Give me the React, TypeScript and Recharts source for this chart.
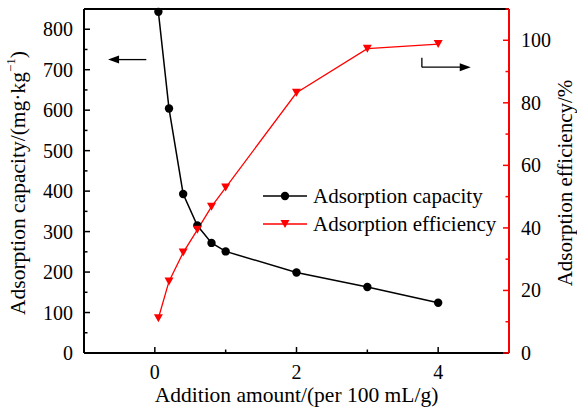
import { ComposedChart, Line, XAxis, YAxis, Legend, ReferenceLine } from "recharts";

const amounts = [0.05, 0.2, 0.4, 0.6, 0.8, 1, 2, 3, 4];
const capacity = [843, 604, 393, 315, 272, 251, 199, 163, 124];
const efficiency = [11.1, 22.9, 32.1, 39.4, 46.8, 52.9, 83.2, 97.3, 98.8];

const xTicks = [0, 1, 2, 3, 4];
const leftTicks = [0, 50, 100, 150, 200, 250, 300, 350, 400, 450, 500, 550, 600, 650, 700, 750, 800];
const rightTicks = [0, 10, 20, 30, 40, 50, 60, 70, 80, 90, 100, 110];

const seriesNames = ["Adsorption capacity", "Adsorption efficiency"];

const FONT = '"Liberation Serif", "Times New Roman", serif';
const RED = "#ff0000";
const TM = 4; // tickMargin, used to get back to the axis line

const data = amounts.map((x, i) => ({ x, cap: capacity[i], eff: efficiency[i] }));

const LeftTick = (props: any) => {
  const { x, y, payload } = props;
  const ax = x + TM;
  const major = payload.value % 100 === 0;
  return (
    <g>
      <line x1={ax} x2={ax + (major ? 6 : 3.5)} y1={y} y2={y} stroke="#000" strokeWidth={1.5} />
      {major && (
        <text x={ax - 11} y={y} dy="0.35em" textAnchor="end" fontSize={20} fontFamily={FONT} fill="#000">
          {payload.value}
        </text>
      )}
    </g>
  );
};

const RightTick = (props: any) => {
  const { x, y, payload } = props;
  const ax = x - TM;
  const major = payload.value % 20 === 0;
  return (
    <g>
      <line x1={ax} x2={ax - (major ? 6 : 3.5)} y1={y} y2={y} stroke={RED} strokeWidth={1.5} />
      {major && (
        <text x={ax + 12} y={y} dy="0.35em" textAnchor="start" fontSize={20} fontFamily={FONT} fill="#000">
          {payload.value}
        </text>
      )}
    </g>
  );
};

const BottomTick = (props: any) => {
  const { x, y, payload } = props;
  const ay = y - TM;
  const major = payload.value % 2 === 0;
  return (
    <g>
      <line x1={x} x2={x} y1={ay} y2={ay - (major ? 6 : 3.5)} stroke="#000" strokeWidth={1.5} />
      {major && (
        <text x={x} y={ay + 26} textAnchor="middle" fontSize={20} fontFamily={FONT} fill="#000">
          {payload.value}
        </text>
      )}
    </g>
  );
};

const CircleDot = (props: any) => {
  const { cx, cy, index } = props;
  return <circle key={`c-${index}`} cx={cx} cy={cy} r={4.2} fill="#000" />;
};

const TriDot = (props: any) => {
  const { cx, cy, index } = props;
  return (
    <polygon
      key={`t-${index}`}
      points={`${cx - 4.5},${cy - 4} ${cx + 4.5},${cy - 4} ${cx},${cy + 4}`}
      fill={RED}
    />
  );
};

const arrowShape = (dir: "left" | "right") => (props: any) => {
  const { x1, y1, x2, y2 } = props;
  const tipX = dir === "left" ? Math.min(x1, x2) : Math.max(x1, x2);
  const tailX = dir === "left" ? Math.max(x1, x2) : Math.min(x1, x2);
  const s = dir === "left" ? 1 : -1;
  return (
    <g>
      <line x1={tailX} y1={y1} x2={tipX + s * 8} y2={y2} stroke="#000" strokeWidth={1.3} />
      <polygon points={`${tipX},${y1} ${tipX + s * 11},${y1 - 4} ${tipX + s * 11},${y1 + 4}`} fill="#000" />
    </g>
  );
};

const plainShape = (props: any) => {
  const { x1, y1, x2, y2 } = props;
  return <line x1={x1} y1={y1} x2={x2} y2={y2} stroke="#000" strokeWidth={1.3} />;
};

const renderLegend = () => (
  <div style={{ fontFamily: FONT, fontSize: 21, color: "#000" }}>
    {seriesNames.map((name, i) => (
      <div key={name} style={{ display: "flex", alignItems: "center", height: 28, whiteSpace: "nowrap" }}>
        <svg width={44} height={14} style={{ marginRight: 6 }}>
          <line x1={0} x2={44} y1={7} y2={7} stroke={i === 0 ? "#000" : RED} strokeWidth={1.5} />
          {i === 0 ? (
            <circle cx={22} cy={7} r={4.2} fill="#000" />
          ) : (
            <polygon points="17.5,3 26.5,3 22,11" fill={RED} />
          )}
        </svg>
        <span>{name}</span>
      </div>
    ))}
  </div>
);

export default function App() {
  return (
    <div style={{ position: "absolute", left: 0, top: 0, background: "#fff" }}>
      <ComposedChart width={577} height={412} data={data} margin={{ top: 9, right: 0, bottom: 0, left: 0 }}>
        <XAxis
          type="number"
          dataKey="x"
          domain={[-1, 5]}
          ticks={xTicks}
          height={59}
          tickSize={0}
          tickMargin={TM}
          tick={BottomTick}
          axisLine={{ stroke: "#000", strokeWidth: 2 }}
          label={(p: any) => {
            const vb = p.viewBox;
            return (
              <text x={vb.x + vb.width / 2} y={402} textAnchor="middle" fontSize={21.5} fontFamily={FONT} fill="#000">
                Addition amount/(per 100 mL/g)
              </text>
            );
          }}
        />
        <YAxis
          yAxisId="left"
          domain={[0, 850]}
          ticks={leftTicks}
          width={84}
          tickSize={0}
          tickMargin={TM}
          tick={LeftTick}
          interval={0}
          axisLine={{ stroke: "#000", strokeWidth: 2 }}
          label={() => (
            <text
              x={18}
              y={183}
              transform="rotate(-90, 18, 183)"
              textAnchor="middle"
              dominantBaseline="central"
              fontSize={21.5}
              fontFamily={FONT}
              fill="#000"
            >
              Adsorption capacity/(mg·kg
              <tspan dy={-8} fontSize={13}>−1</tspan>
              <tspan dy={8}>)</tspan>
            </text>
          )}
        />
        <YAxis
          yAxisId="right"
          orientation="right"
          domain={[0, 110]}
          ticks={rightTicks}
          width={68}
          tickSize={0}
          tickMargin={TM}
          tick={RightTick}
          interval={0}
          axisLine={{ stroke: RED, strokeWidth: 2 }}
          label={() => (
            <text
              x={565}
              y={183}
              transform="rotate(-90, 565, 183)"
              textAnchor="middle"
              dominantBaseline="central"
              fontSize={21}
              fontFamily={FONT}
              fill="#000"
            >
              Adsorption efficiency/%
            </text>
          )}
        />
        <ReferenceLine yAxisId="left" y={850} stroke="#000" strokeWidth={2} />
        <ReferenceLine
          yAxisId="left"
          segment={[{ x: -0.12, y: 725 }, { x: -0.66, y: 725 }]}
          shape={arrowShape("left")}
        />
        <ReferenceLine
          yAxisId="right"
          segment={[{ x: 3.77, y: 94.4 }, { x: 3.77, y: 91.4 }]}
          shape={plainShape}
        />
        <ReferenceLine
          yAxisId="right"
          segment={[{ x: 3.77, y: 91.4 }, { x: 4.46, y: 91.4 }]}
          shape={arrowShape("right")}
        />
        <Line
          yAxisId="left"
          type="linear"
          dataKey="cap"
          name={seriesNames[0]}
          stroke="#000"
          strokeWidth={1.5}
          dot={CircleDot}
          activeDot={false}
          isAnimationActive={false}
        />
        <Line
          yAxisId="right"
          type="linear"
          dataKey="eff"
          name={seriesNames[1]}
          stroke={RED}
          strokeWidth={1.3}
          dot={TriDot}
          activeDot={false}
          isAnimationActive={false}
        />
        <Legend
          layout="vertical"
          align="center"
          verticalAlign="middle"
          wrapperStyle={{ left: 263, top: 182, width: 260 }}
          content={renderLegend}
        />
      </ComposedChart>
    </div>
  );
}
